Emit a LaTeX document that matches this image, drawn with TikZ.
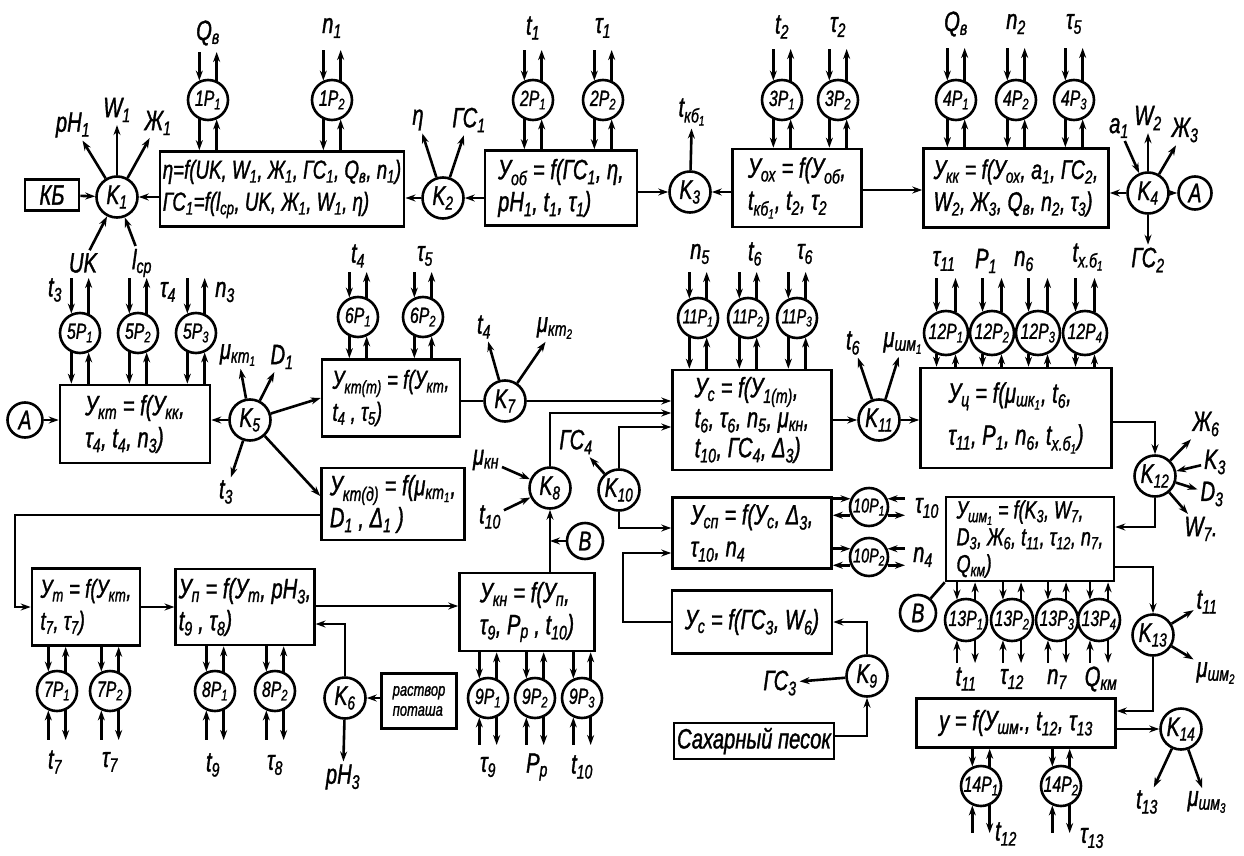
\documentclass[tikz,border=0pt]{standalone}
\usepackage{fontspec}
\setmainfont{Liberation Sans}[FakeStretch=0.72,FakeBold=1.2]
\usetikzlibrary{arrows.meta,calc}
\newcommand\lo[1]{\textsubscript{#1}}
\newcommand\fs[1]{\fontsize{#1}{#1}\selectfont\itshape}
\tikzset{
 ln/.style={line width=2.6pt},
 arr/.style={ln,-{Stealth[length=10pt,width=7pt]}},
 arl/.style={ln,{Stealth[length=10pt,width=7pt]}-},
 bx/.style 2 args={draw,ln,minimum width=#1pt,minimum height=#2pt,align=left,inner sep=3pt,font=\fontsize{28}{32}\selectfont\itshape},
 kc/.style={draw,ln,circle,minimum size=41pt,inner sep=0pt,font=\fs{27}},
 pc/.style={draw,ln,circle,minimum size=40pt,inner sep=0pt,font=\fs{22}},
 lab/.style={inner sep=0pt,outer sep=3pt,font=\fs{28}},
}
\newcommand\regU[3]{%
 \draw[arr] (#1.-114) -- (#1.-114 |- #2.north);
 \draw[arl] (#1.-66) -- (#1.-66 |- #2.north);
 \draw[arl] (#1.114) -- (#1.114 |- 0,#3);
 \draw[arr] (#1.66) -- (#1.66 |- 0,#3);}
\newcommand\regD[3]{%
 \draw[arl] (#1.114) -- (#1.114 |- #2.south);
 \draw[arr] (#1.66) -- (#1.66 |- #2.south);
 \draw[arl] (#1.-114) -- (#1.-114 |- 0,#3);
 \draw[arr] (#1.-66) -- (#1.-66 |- 0,#3);}
\newcommand\regR[3]{%
 \draw[arl] (#1.156) -- (#1.156 -| #2.east);
 \draw[arr] (#1.204) -- (#1.204 -| #2.east);
 \draw[arl] (#1.24) -- (#1.24 -| #3,0);
 \draw[arr] (#1.-24) -- (#1.-24 -| #3,0);}
\begin{document}
\begin{tikzpicture}[x=1pt,y=-1pt]
\fill[white] (0,0) rectangle (1244,856);
\useasboundingbox (0,0) rectangle (1244,856);
% ---------- top row ----------
\node[bx={54}{31}] (kb) at (52,195) {КБ};
\node[kc] (K1) at (117,197) {K\lo{1}};
\node[bx={244}{75},font=\fontsize{26}{32}\selectfont\itshape] (b1) at (282,189) {η=f(UK, W\lo{1}, Ж\lo{1}, ГС\lo{1}, Q\lo{в}, n\lo{1})\\ГС\lo{1}=f(l\lo{ср}, UK, Ж\lo{1}, W\lo{1}, η)};
\node[kc] (K2) at (443,198) {K\lo{2}};
\node[bx={152}{75}] (b2) at (561,188) {У\lo{об} = f(ГС\lo{1}, η,\\pH\lo{1}, t\lo{1}, τ\lo{1})};
\node[kc] (K3) at (690,192) {K\lo{3}};
\node[bx={129}{78}] (b3) at (797,188) {У\lo{ох} = f(У\lo{об},\\t\lo{кб\lo{1}}, t\lo{2}, τ\lo{2}};
\node[bx={185}{79},font=\fontsize{27}{32}\selectfont\itshape] (b4) at (1016,188) {У\lo{кк} = f(У\lo{ох}, a\lo{1}, ГС\lo{2},\\W\lo{2}, Ж\lo{3}, Q\lo{в}, n\lo{2}, τ\lo{3})};
\node[kc] (K4) at (1148,193) {K\lo{4}};
\node[kc,minimum size=33pt] (A1) at (1195,193) {A};
\node[pc] (P1a) at (208,100) {1P\lo{1}};
\node[pc] (P1b) at (332,100) {1P\lo{2}};
\node[pc] (P2a) at (533,100) {2P\lo{1}};
\node[pc] (P2b) at (603,100) {2P\lo{2}};
\node[pc] (P3a) at (782,100) {3P\lo{1}};
\node[pc] (P3b) at (838,100) {3P\lo{2}};
\node[pc] (P4a) at (956,100) {4P\lo{1}};
\node[pc] (P4b) at (1016,100) {4P\lo{2}};
\node[pc] (P4c) at (1074,100) {4P\lo{3}};
\regU{P1a}{b1}{52}\regU{P1b}{b1}{50}\regU{P2a}{b2}{50}\regU{P2b}{b2}{50}
\regU{P3a}{b3}{49}\regU{P3b}{b3}{49}\regU{P4a}{b4}{48}\regU{P4b}{b4}{48}\regU{P4c}{b4}{48}
\node[lab] at (208,33) {Q\lo{в}};
\node[lab] at (332,28) {n\lo{1}};
\node[lab] at (533,28) {t\lo{1}};
\node[lab] at (603,28) {τ\lo{1}};
\node[lab] at (782,27) {t\lo{2}};
\node[lab] at (838,27) {τ\lo{2}};
\node[lab] at (956,24) {Q\lo{в}};
\node[lab] at (1016,24) {n\lo{2}};
\node[lab] at (1074,24) {τ\lo{5}};
% K1 labels
\node[lab] (l1a) at (73,125) {pH\lo{1}};
\node[lab] (l1b) at (117,110) {W\lo{1}};
\node[lab] (l1c) at (158,123) {Ж\lo{1}};
\node[lab] (l1d) at (83,263) {UK};
\node[lab] (l1e) at (142,263) {l\lo{ср}};
\draw[arr] (K1) -- (l1a);
\draw[arr] (K1) -- (l1b);
\draw[arr] (K1) -- (l1c);
\draw[arr] (l1d) -- (K1);
\draw[arr] (l1e) -- (K1);
\node[lab] (l2a) at (418,120) {η};
\node[lab] (l2b) at (469,120) {ГС\lo{1}};
\draw[arr] (K2) -- (l2a);
\draw[arr] (K2) -- (l2b);
\node[lab] (l3a) at (692,112) {t\lo{кб\lo{1}}};
\draw[arr] (K3) -- (l3a);
\node[lab] (l4a) at (1119,128) {a\lo{1}};
\node[lab] (l4b) at (1148,118) {W\lo{2}};
\node[lab] (l4c) at (1185,130) {Ж\lo{3}};
\node[lab] (l4d) at (1148,260) {ГС\lo{2}};
\draw[arr] (l4a) -- (K4);
\draw[arr] (K4) -- (l4b);
\draw[arr] (K4) -- (l4c);
\draw[arr] (K4) -- (l4d);
% top connectors
\draw[arr] (kb) -- (K1);
\draw[arr] (K1 -| b1.west) -- (K1);
\draw[arr] (K2) -- (K2 -| b1.east);
\draw[arr] (K2 -| b2.west) -- (K2);
\draw[arr] (K3 -| b2.east) -- (K3);
\draw[arr] (K3 -| b3.west) -- (K3);
\draw[arr] ([yshift=-2pt]b3.east) -- ([yshift=-2pt]b3.east -| b4.west);
\draw[arr] (K4) -- (K4 -| b4.east);
\draw[arr] (K4) -- (A1);
% ---------- middle row ----------
\node[kc,minimum size=35pt] (A2) at (25,420) {A};
\node[bx={150}{78}] (b5) at (135,424) {У\lo{кт} = f(У\lo{кк},\\τ\lo{4}, t\lo{4}, n\lo{3})};
\node[kc] (K5) at (250,420) {K\lo{5}};
\node[bx={138}{77},font=\fontsize{26}{32}\selectfont\itshape] (b6) at (391,398) {У\lo{кт(т)} = f(У\lo{кт},\\t\lo{4} , τ\lo{5})};
\node[bx={143}{72}] (b7) at (393,504) {У\lo{кт(д)} = f(μ\lo{кт\lo{1}},\\D\lo{1} , Δ\lo{1} )};
\node[kc] (K7) at (505,401) {K\lo{7}};
\node[kc] (K8) at (550,488) {K\lo{8}};
\node[kc] (K10) at (619,490) {K\lo{10}};
\node[kc,minimum size=36pt] (B1) at (585,541) {B};
\node[bx={159}{100},font=\fontsize{28}{30}\selectfont\itshape] (b8) at (752,420) {У\lo{с} = f(У\lo{1(т)},\\t\lo{6}, τ\lo{6}, n\lo{5}, μ\lo{кн},\\t\lo{10}, ГС\lo{4}, Δ\lo{3})};
\node[bx={159}{71}] (b9) at (752,533) {У\lo{сп} = f(У\lo{с}, Δ\lo{3},\\τ\lo{10}, n\lo{4}};
\node[pc,minimum size=38pt,font=\fs{20}] (P10a) at (869,507) {10P\lo{1}};
\node[pc,minimum size=38pt,font=\fs{20}] (P10b) at (869,557) {10P\lo{2}};
\node[kc] (K11) at (879,420) {K\lo{11}};
\node[bx={191}{100},font=\fontsize{28}{42}\selectfont\itshape] (b14) at (1016,418) {У\lo{ц} = f(μ\lo{шк\lo{1}}, t\lo{6},\\τ\lo{11}, P\lo{1}, n\lo{6}, t\lo{x.б\lo{1}})};
\node[kc] (K12) at (1155,476) {K\lo{12}};
\node[bx={168}{84},inner sep=1pt,font=\fontsize{25}{27}\selectfont\itshape] (b15) at (1030,539) {У\lo{шм\lo{1}} = f(K\lo{3}, W\lo{7},\\D\lo{3}, Ж\lo{6}, t\lo{11}, τ\lo{12}, n\lo{7},\\Q\lo{км})};
\node[kc,minimum size=36pt] (B2) at (918,613) {B};
\node[kc] (K13) at (1153,635) {K\lo{13}};
\node[pc] (P5a) at (80,333) {5P\lo{1}};
\node[pc] (P5b) at (138,333) {5P\lo{2}};
\node[pc] (P5c) at (196,333) {5P\lo{3}};
\node[pc] (P6a) at (358,317) {6P\lo{1}};
\node[pc] (P6b) at (423,317) {6P\lo{2}};
\node[pc,font=\fs{20}] (P11a) at (698,318) {11P\lo{1}};
\node[pc,font=\fs{20}] (P11b) at (748,318) {11P\lo{2}};
\node[pc,font=\fs{20}] (P11c) at (797,318) {11P\lo{3}};
\node[pc,minimum size=44pt] (P12a) at (946,333) {12P\lo{1}};
\node[pc,minimum size=44pt] (P12b) at (992,333) {12P\lo{2}};
\node[pc,minimum size=44pt] (P12c) at (1038,333) {12P\lo{3}};
\node[pc,minimum size=44pt] (P12d) at (1085,333) {12P\lo{4}};
\node[pc,minimum size=42pt] (P13a) at (966,620) {13P\lo{1}};
\node[pc,minimum size=42pt] (P13b) at (1012,620) {13P\lo{2}};
\node[pc,minimum size=42pt] (P13c) at (1057,620) {13P\lo{3}};
\node[pc,minimum size=42pt] (P13d) at (1099,620) {13P\lo{4}};
\regU{P5a}{b5}{278}\regU{P5b}{b5}{278}\regU{P5c}{b5}{278}
\regU{P6a}{b6}{272}\regU{P6b}{b6}{272}
\regU{P11a}{b8}{272}\regU{P11b}{b8}{272}\regU{P11c}{b8}{272}
\regU{P12a}{b14}{278}\regU{P12b}{b14}{278}\regU{P12c}{b14}{278}\regU{P12d}{b14}{278}
\regR{P10a}{b9}{905}\regR{P10b}{b9}{905}
\regD{P13a}{b15}{663}\regD{P13b}{b15}{663}\regD{P13c}{b15}{663}\regD{P13d}{b15}{663}
\node[lab] at (55,290) {t\lo{3}};
\node[lab] at (168,292) {τ\lo{4}};
\node[lab] at (225,292) {n\lo{3}};
\node[lab] at (358,256) {t\lo{4}};
\node[lab] at (425,256) {τ\lo{5}};
\node[lab] at (700,254) {n\lo{5}};
\node[lab] at (755,254) {t\lo{6}};
\node[lab] at (805,254) {τ\lo{6}};
\node[lab] at (944,261) {τ\lo{11}};
\node[lab] at (986,261) {P\lo{1}};
\node[lab] at (1024,261) {n\lo{6}};
\node[lab] at (1088,257) {t\lo{х.б\lo{1}}};
\node[lab] at (927,508) {τ\lo{10}};
\node[lab] at (923,557) {n\lo{4}};
\node[lab] at (966,679) {t\lo{11}};
\node[lab] at (1012,679) {τ\lo{12}};
\node[lab] at (1057,679) {n\lo{7}};
\node[lab] at (1101,679) {Q\lo{км}};
% K labels, middle
\node[lab] (l5a) at (238,355) {μ\lo{кт\lo{1}}};
\node[lab] (l5b) at (282,357) {D\lo{1}};
\node[lab] (l5c) at (226,492) {t\lo{3}};
\draw[arr] (K5) -- (l5a);
\draw[arr] (K5) -- (l5b);
\draw[arr] (K5) -- (l5c);
\node[lab] (l7a) at (484,327) {t\lo{4}};
\node[lab] (l7b) at (555,328) {μ\lo{кт\lo{2}}};
\draw[arr] (K7) -- (l7a);
\draw[arr] (K7) -- (l7b);
\node[lab] (l8a) at (486,460) {μ\lo{кн}};
\node[lab] (l8b) at (490,517) {t\lo{10}};
\draw[arr] (l8a) -- (K8);
\draw[arr] (l8b) -- (K8);
\node[lab] (l10a) at (576,442) {ГС\lo{4}};
\draw[arr] (K10) -- (l10a);
\node[lab] (l11a) at (853,343) {t\lo{6}};
\node[lab] (l11b) at (903,343) {μ\lo{шм\lo{1}}};
\draw[arr] (K11) -- (l11a);
\draw[arr] (K11) -- (l11b);
\node[lab] (l12a) at (1206,424) {Ж\lo{6}};
\node[lab] (l12b) at (1215,462) {K\lo{3}};
\node[lab] (l12c) at (1212,494) {D\lo{3}};
\node[lab] (l12d) at (1201,529) {W\lo{7}.};
\draw[arr] (K12) -- (l12a);
\draw[arr] (l12b) -- (K12);
\draw[arr] (K12) -- (l12c);
\draw[arr] (K12) -- (l12d);
\node[lab] (l13a) at (1207,602) {t\lo{11}};
\node[lab] (l13b) at (1216,673) {μ\lo{шм\lo{2}}};
\draw[arr] (K13) -- (l13a);
\draw[arr] (K13) -- (l13b);
% middle connectors
\draw[arr] (A2) -- (A2 -| b5.west);
\draw[arr] (K5) -- (K5 -| b5.east);
\draw[arr] (K5) -- (b6.west);
\draw[arr] (K5) -- ([yshift=8pt]b7.west);
\draw[ln] (b6.east |- K7) -- (K7);
\draw[arr] (K7) -- (K7 -| b8.west);
\draw[arr] (K8.north) |- ([yshift=7pt]b8.west);
\draw[arr] (K10.north) |- ([yshift=-7pt]b8.west);
\draw[arr] (K10.south) |- ([yshift=5pt]b9.west);
\draw[arr] (B1) -- (B1 -| K8);
\draw[arr] (b8.east |- K11) -- (K11);
\draw[arr] (K11) -- (K11 -| b14.west);
\draw[arr] ([yshift=-4pt]b14.east) -| (K12.north);
\draw[arr] (K12.south) |- ([yshift=12pt]b15.east);
\draw[arr] ([yshift=-28pt]b15.east) -| (K13.north);
\draw[ln] (b15.south west) -- (B2);
% ---------- bottom row ----------
\node[bx={108}{77},font=\fontsize{26}{32}\selectfont\itshape] (b12) at (86,607) {У\lo{т} = f(У\lo{кт},\\t\lo{7}, τ\lo{7})};
\node[bx={136}{76}] (b13) at (245,607) {У\lo{п} = f(У\lo{т}, pH\lo{3},\\t\lo{9} , τ\lo{8})};
\node[kc] (K6) at (345,698) {K\lo{6}};
\node[bx={75}{55},font=\fontsize{18}{20}\selectfont\itshape] (rp) at (419,701) {раствор\\поташа};
\node[bx={135}{78}] (b11) at (527,612) {У\lo{кн} = f(У\lo{п},\\τ\lo{9}, P\lo{p} , t\lo{10})};
\node[bx={160}{63}] (b10) at (752,622) {У\lo{с} = f(ГС\lo{3}, W\lo{6})};
\node[kc] (K9) at (867,676) {K\lo{9}};
\node[bx={158}{36}] (sp) at (754,741) {Сахарный песок};
\node[bx={199}{49}] (b16) at (1016,723) {у = f(У\lo{шм}., t\lo{12}, τ\lo{13}};
\node[kc] (K14) at (1181,729) {K\lo{14}};
\node[pc] (P7a) at (57,691) {7P\lo{1}};
\node[pc] (P7b) at (110,691) {7P\lo{2}};
\node[pc] (P8a) at (215,691) {8P\lo{1}};
\node[pc] (P8b) at (275,691) {8P\lo{2}};
\node[pc] (P9a) at (488,698) {9P\lo{1}};
\node[pc] (P9b) at (535,698) {9P\lo{2}};
\node[pc] (P9c) at (582,698) {9P\lo{3}};
\node[pc] (P14a) at (981,786) {14P\lo{1}};
\node[pc] (P14b) at (1061,786) {14P\lo{2}};
\regD{P7a}{b12}{740}\regD{P7b}{b12}{740}\regD{P8a}{b13}{740}\regD{P8b}{b13}{740}
\regD{P9a}{b11}{745}\regD{P9b}{b11}{745}\regD{P9c}{b11}{745}
\regD{P14a}{b16}{833}\regD{P14b}{b16}{833}
\node[lab] at (55,762) {t\lo{7}};
\node[lab] at (110,762) {τ\lo{7}};
\node[lab] at (213,765) {t\lo{9}};
\node[lab] at (275,765) {τ\lo{8}};
\node[lab] at (488,767) {τ\lo{9}};
\node[lab] at (537,767) {P\lo{p}};
\node[lab] at (582,767) {t\lo{10}};
\node[lab] at (1006,834) {t\lo{12}};
\node[lab] at (1092,838) {τ\lo{13}};
\node[lab] (l6a) at (343,777) {pH\lo{3}};
\draw[arr] (K6) -- (l6a);
\node[lab] (l9a) at (780,683) {ГС\lo{3}};
\draw[arr] (K9) -- (l9a);
\node[lab] (l14a) at (1147,802) {t\lo{13}};
\node[lab] (l14b) at (1207,802) {μ\lo{шм\lo{3}}};
\draw[arr] (K14) -- (l14a);
\draw[arr] (K14) -- (l14b);
% bottom connectors
\coordinate (c1) at (15,515);
\draw[arr] ([yshift=-11pt]b7.west) -- (c1) |- (b12.west);
\draw[arr] (b12.east) -- (b13.west);
\draw[arr] ([yshift=1pt]b13.east) -- ([yshift=1pt]b13.east -| b11.west);
\draw[arr] (K6.north) |- ([yshift=-17pt]b13.east);
\draw[arr] (rp.west |- K6) -- (K6);
\draw[arr] (b11.north -| K8) -- (K8);
\draw[arr] (K9.north) |- (b10.east);
\draw[arr] ([yshift=5pt]sp.east) -| (K9.south);
\coordinate (c2) at (623,622);
\draw[arr] (b10.west) -- (c2) |- ([yshift=-20pt]b9.west);
\draw[arr] (K13.south) |- ([yshift=12pt]b16.east);
\draw[arr] (b16.east |- K14) -- (K14);
\end{tikzpicture}
\end{document}
